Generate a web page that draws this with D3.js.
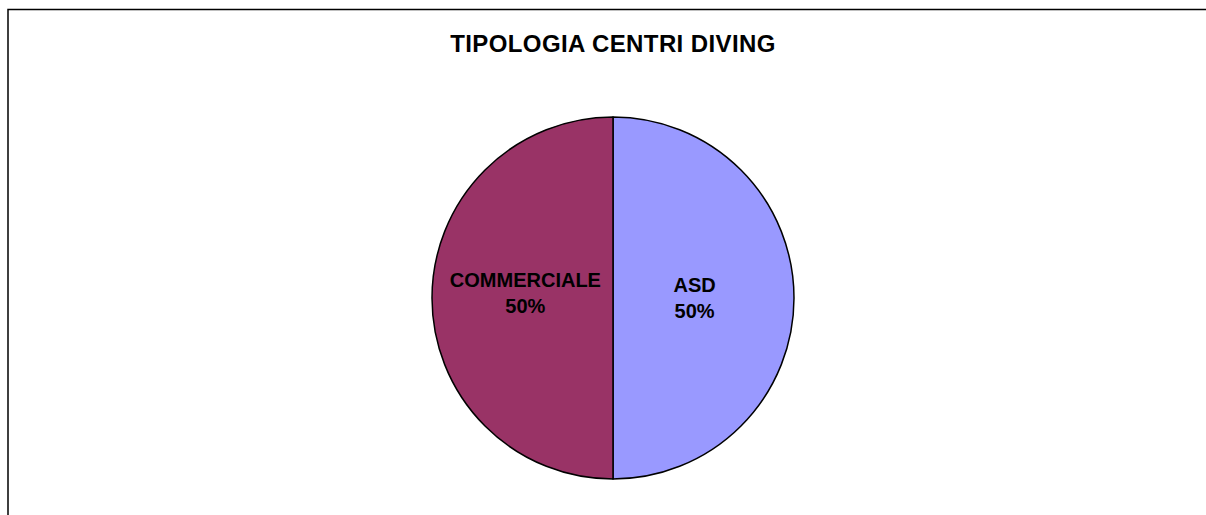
<!DOCTYPE html>
<html>
<head>
<meta charset="utf-8">
<script src="https://cdn.jsdelivr.net/npm/d3@7"></script>
<style>
  html, body { margin: 0; padding: 0; background: #fff; }
  svg { display: block; }
  text { font-family: "Liberation Sans", Arial, sans-serif; font-weight: bold; fill: #000; }
</style>
</head>
<body>
<svg id="chart" width="1206" height="515"></svg>
<script>
const title = "TIPOLOGIA CENTRI DIVING";
const categories = ["ASD", "COMMERCIALE"];
const values = [50, 50];
const colors = ["#9999FF", "#993366"];

const svg = d3.select("#chart");

// chart frame (extends beyond right/bottom edges)
svg.append("rect")
  .attr("x", 8).attr("y", 9.5)
  .attr("width", 1210).attr("height", 520)
  .attr("fill", "#fff").attr("stroke", "#000").attr("stroke-width", 1.5);

svg.append("text")
  .attr("x", 613).attr("y", 52)
  .attr("text-anchor", "middle")
  .style("font-size", "24px")
  .style("letter-spacing", "0.4px")
  .text(title);

const cx = 613, cy = 298, r = 181;
const total = d3.sum(values);
const data = categories.map((c, i) => ({ cat: c, value: values[i], color: colors[i] }));

const pie = d3.pie().value(d => d.value).sort(null);
const arc = d3.arc().innerRadius(0).outerRadius(r);
const labelArc = d3.arc().innerRadius(0).outerRadius(r * 0.935);

const g = svg.append("g").attr("transform", `translate(${cx},${cy})`);
const arcs = pie(data);

g.selectAll("path").data(arcs).enter().append("path")
  .attr("d", arc)
  .attr("fill", d => d.data.color)
  .attr("stroke", "#000")
  .attr("stroke-width", 1.5)
  .attr("stroke-linejoin", "round");

const lbl = g.selectAll("text.lbl").data(arcs).enter().append("text")
  .attr("class", "lbl")
  .attr("text-anchor", "middle")
  .style("font-size", "20px")
  .attr("transform", d => {
    const [x, y] = labelArc.centroid(d);
    return `translate(${x - 3},${y + (x < 0 ? -9 : -4)})`;
  });
lbl.append("tspan").attr("x", 0).attr("dy", "-0.1em").text(d => d.data.cat);
lbl.append("tspan").attr("x", 0).attr("dy", "1.28em")
  .text(d => Math.round(d.data.value / total * 100) + "%");
</script>
</body>
</html>
